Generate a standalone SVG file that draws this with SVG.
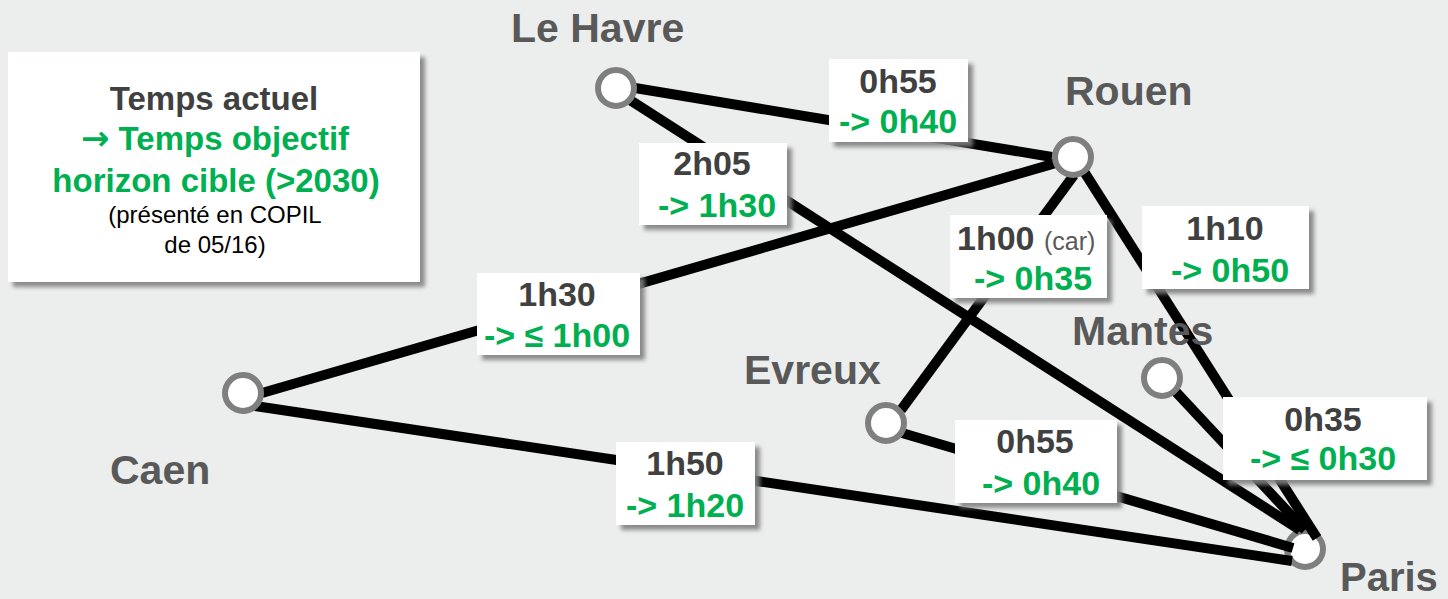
<svg xmlns="http://www.w3.org/2000/svg" width="1448" height="599" viewBox="0 0 1448 599">
<defs>
<filter id="sh" x="-10%" y="-10%" width="130%" height="135%">
<feDropShadow dx="5" dy="5" stdDeviation="2" flood-color="#7f7f7f" flood-opacity="0.9"/>
</filter>
<style>
.box{fill:#fff;filter:url(#sh)}
.node{fill:#fff;stroke:#7F7F7F;stroke-width:6}
.city{font-family:"Liberation Sans",Arial,sans-serif;font-weight:bold;font-size:41px;fill:#595959}
.cur{font-family:"Liberation Sans",Arial,sans-serif;font-weight:bold;font-size:34px;fill:#404040;text-anchor:middle}
.tgt{font-family:"Liberation Sans",Arial,sans-serif;font-weight:bold;font-size:34px;fill:#00B050;text-anchor:middle}
.edge{stroke:#000;stroke-width:10;fill:none}
.small{font-family:"Liberation Sans",Arial,sans-serif;font-size:24px;fill:#000;text-anchor:middle}
</style>
</defs>
<rect width="1448" height="599" fill="#ECEEED"/>

<g id="legend">
<rect class="box" x="8" y="52" width="412" height="230"/>
<text x="214" y="110" class="cur" style="font-size:33px">Temps actuel</text>
<text x="215" y="150" class="tgt" style="font-size:33px"><tspan style="font-family:'DejaVu Sans',sans-serif;font-size:34px">→</tspan> Temps objectif</text>
<text x="216" y="192" class="tgt" style="font-size:33px">horizon cible (&gt;2030)</text>
<text x="215" y="223" class="small">(présenté en COPIL</text>
<text x="215" y="253" class="small">de 05/16)</text>
</g>

<g id="node-paris">
<circle class="node" cx="1305" cy="549" r="18"/>
<text class="city" x="1340" y="591" style="font-size:40px">Paris</text>
</g>

<g id="connectors">
<line class="edge" x1="635" y1="88" x2="1052" y2="157"/>
<line class="edge" x1="630" y1="100" x2="1300" y2="530"/>
<line class="edge" x1="262" y1="393" x2="1056" y2="163"/>
<line class="edge" x1="255" y1="406" x2="1292" y2="561"/>
<line class="edge" x1="1074" y1="175" x2="901" y2="410"/>
<line class="edge" x1="1083" y1="170" x2="1317" y2="538"/>
<line class="edge" x1="1176" y1="392" x2="1305" y2="530"/>
<line class="edge" x1="902" y1="433" x2="1293" y2="548"/>
</g>

<g id="node-lehavre">
<circle class="node" cx="616" cy="88" r="18"/>
<text class="city" x="511" y="42">Le Havre</text>
</g>
<g id="node-rouen">
<circle class="node" cx="1073" cy="157" r="18"/>
<text class="city" x="1065" y="105">Rouen</text>
</g>
<g id="node-mantes">
<circle class="node" cx="1162" cy="378" r="18"/>
<text class="city" x="1072" y="345">Mantes</text>
</g>
<g id="node-evreux">
<circle class="node" cx="886" cy="423" r="18"/>
<text class="city" x="744" y="384">Evreux</text>
</g>
<g id="node-caen">
<circle class="node" cx="243" cy="393" r="18"/>
<text class="city" x="110" y="484">Caen</text>
</g>

<g id="label-lehavre-rouen">
<rect class="box" x="829" y="59" width="139" height="83"/>
<text class="cur" x="898" y="93">0h55</text>
<text class="tgt" x="898" y="133">-&gt; 0h40</text>
</g>
<g id="label-lehavre-paris">
<rect class="box" x="639" y="143" width="148" height="82"/>
<text class="cur" x="712" y="175">2h05</text>
<text class="tgt" x="717" y="217">-&gt; 1h30</text>
</g>
<g id="label-rouen-evreux">
<rect class="box" x="950" y="215" width="157" height="83"/>
<text class="cur" x="957" y="250" style="text-anchor:start">1h00 <tspan style="font-weight:normal;font-size:25px;fill:#595959">(car)</tspan></text>
<text class="tgt" x="1033" y="290">-&gt; 0h35</text>
</g>
<g id="label-rouen-paris">
<rect class="box" x="1142" y="206" width="167" height="83"/>
<text class="cur" x="1225" y="240">1h10</text>
<text class="tgt" x="1230" y="282">-&gt; 0h50</text>
</g>
<g id="label-rouen-caen">
<rect class="box" x="477" y="273" width="163" height="82"/>
<text class="cur" x="557" y="306">1h30</text>
<text class="tgt" x="557" y="347">-&gt; ≤ 1h00</text>
</g>
<g id="label-caen-paris">
<rect class="box" x="616" y="442" width="139" height="83"/>
<text class="cur" x="685" y="475">1h50</text>
<text class="tgt" x="685" y="517">-&gt; 1h20</text>
</g>
<g id="label-evreux-paris">
<rect class="box" x="955" y="420" width="162" height="83"/>
<text class="cur" x="1035" y="453">0h55</text>
<text class="tgt" x="1041" y="495">-&gt; 0h40</text>
</g>
<g id="label-mantes-paris">
<rect class="box" x="1223" y="397" width="204" height="83"/>
<text class="cur" x="1323" y="431">0h35</text>
<text class="tgt" x="1323" y="470">-&gt; ≤ 0h30</text>
</g>
</svg>
